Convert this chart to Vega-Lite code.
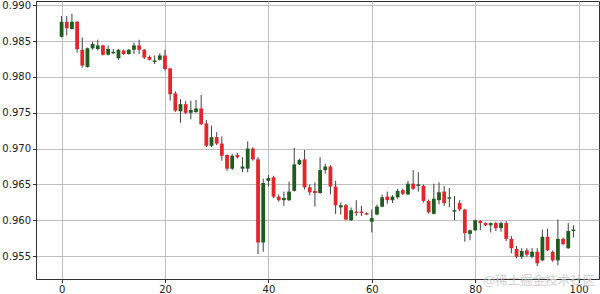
{
  "$schema": "https://vega.github.io/schema/vega-lite/v6.json",
  "width": 563,
  "height": 278,
  "autosize": {"type": "none"},
  "padding": {"left": 36, "top": 1, "right": 1, "bottom": 15},
  "background": "white",
  "config": {
    "view": {"stroke": "#333333", "strokeWidth": 1},
    "scale": {"continuousPadding": 0},
    "axis": {
      "labelFont": "DejaVu Sans",
      "labelFontSize": 10,
      "labelColor": "#222222",
      "tickColor": "#333333",
      "domainColor": "#333333",
      "tickSize": 3.5,
      "labelPadding": 2,
      "labelOverlap": false,
      "gridColor": "#b0b0b0",
      "gridWidth": 0.8
    }
  },
  "data": {
    "values": [
      {"i": 0, "open": 0.9856, "high": 0.9885, "low": 0.9855, "close": 0.9877},
      {"i": 1, "open": 0.9877, "high": 0.9885, "low": 0.9858, "close": 0.9868},
      {"i": 2, "open": 0.9867, "high": 0.9888, "low": 0.9866, "close": 0.9877},
      {"i": 3, "open": 0.9877, "high": 0.9878, "low": 0.9834, "close": 0.9839},
      {"i": 4, "open": 0.9838, "high": 0.9855, "low": 0.9813, "close": 0.9816},
      {"i": 5, "open": 0.9814, "high": 0.9841, "low": 0.9813, "close": 0.984},
      {"i": 6, "open": 0.984, "high": 0.9849, "low": 0.9838, "close": 0.9846},
      {"i": 7, "open": 0.9839, "high": 0.9852, "low": 0.9837, "close": 0.9844},
      {"i": 8, "open": 0.9844, "high": 0.9845, "low": 0.983, "close": 0.9831},
      {"i": 9, "open": 0.9831, "high": 0.9844, "low": 0.983, "close": 0.9839},
      {"i": 10, "open": 0.9833, "high": 0.9839, "low": 0.9832, "close": 0.9835},
      {"i": 11, "open": 0.9826, "high": 0.9839, "low": 0.9824, "close": 0.9838},
      {"i": 12, "open": 0.9837, "high": 0.9838, "low": 0.9831, "close": 0.9832},
      {"i": 13, "open": 0.9832, "high": 0.9839, "low": 0.9831, "close": 0.9838},
      {"i": 14, "open": 0.9838, "high": 0.9848, "low": 0.9832, "close": 0.9844},
      {"i": 15, "open": 0.9844, "high": 0.9852, "low": 0.9832, "close": 0.9838},
      {"i": 16, "open": 0.9838, "high": 0.9839, "low": 0.9825, "close": 0.9827},
      {"i": 17, "open": 0.9828, "high": 0.983, "low": 0.9823, "close": 0.9824},
      {"i": 18, "open": 0.9821, "high": 0.983, "low": 0.9818, "close": 0.9823},
      {"i": 19, "open": 0.9824, "high": 0.9833, "low": 0.9823, "close": 0.983},
      {"i": 20, "open": 0.983, "high": 0.9838, "low": 0.9809, "close": 0.9811},
      {"i": 21, "open": 0.9812, "high": 0.9812, "low": 0.9767, "close": 0.9776},
      {"i": 22, "open": 0.9777, "high": 0.978, "low": 0.9751, "close": 0.9753},
      {"i": 23, "open": 0.9752, "high": 0.9769, "low": 0.9736, "close": 0.9762},
      {"i": 24, "open": 0.9762, "high": 0.9766, "low": 0.9748, "close": 0.975},
      {"i": 25, "open": 0.975, "high": 0.9767, "low": 0.9741, "close": 0.9754},
      {"i": 26, "open": 0.9751, "high": 0.9768, "low": 0.975, "close": 0.9756},
      {"i": 27, "open": 0.9756, "high": 0.9775, "low": 0.9733, "close": 0.9734},
      {"i": 28, "open": 0.9735, "high": 0.974, "low": 0.9702, "close": 0.9704},
      {"i": 29, "open": 0.9704, "high": 0.9732, "low": 0.9702, "close": 0.9716},
      {"i": 30, "open": 0.9716, "high": 0.9723, "low": 0.9705, "close": 0.9707},
      {"i": 31, "open": 0.9707, "high": 0.9717, "low": 0.9683, "close": 0.969},
      {"i": 32, "open": 0.9691, "high": 0.9692, "low": 0.9669, "close": 0.9672},
      {"i": 33, "open": 0.9672, "high": 0.9693, "low": 0.967, "close": 0.969},
      {"i": 34, "open": 0.9691, "high": 0.9694, "low": 0.9686, "close": 0.9688},
      {"i": 35, "open": 0.9672, "high": 0.9688, "low": 0.9667, "close": 0.9675},
      {"i": 36, "open": 0.9672, "high": 0.971, "low": 0.9667, "close": 0.97},
      {"i": 37, "open": 0.97, "high": 0.9702, "low": 0.9683, "close": 0.9685},
      {"i": 38, "open": 0.9685, "high": 0.9688, "low": 0.9553, "close": 0.9569},
      {"i": 39, "open": 0.9569, "high": 0.9658, "low": 0.9556, "close": 0.9652},
      {"i": 40, "open": 0.9655, "high": 0.9663, "low": 0.9647, "close": 0.9659},
      {"i": 41, "open": 0.966, "high": 0.9662, "low": 0.9631, "close": 0.9633},
      {"i": 42, "open": 0.9633, "high": 0.9636, "low": 0.9626, "close": 0.9628},
      {"i": 43, "open": 0.9628, "high": 0.964, "low": 0.962, "close": 0.9631},
      {"i": 44, "open": 0.9628, "high": 0.9654, "low": 0.9627, "close": 0.964},
      {"i": 45, "open": 0.9641, "high": 0.9701, "low": 0.964, "close": 0.9678},
      {"i": 46, "open": 0.9678, "high": 0.9686, "low": 0.9677, "close": 0.9684},
      {"i": 47, "open": 0.9685, "high": 0.9698, "low": 0.9643, "close": 0.9646},
      {"i": 48, "open": 0.9646, "high": 0.965, "low": 0.9635, "close": 0.9639},
      {"i": 49, "open": 0.9641, "high": 0.9653, "low": 0.9619, "close": 0.9638},
      {"i": 50, "open": 0.9638, "high": 0.9688, "low": 0.9637, "close": 0.967},
      {"i": 51, "open": 0.967, "high": 0.9679, "low": 0.9665, "close": 0.9675},
      {"i": 52, "open": 0.9675, "high": 0.9677, "low": 0.9636, "close": 0.9647},
      {"i": 53, "open": 0.9647, "high": 0.9655, "low": 0.9609, "close": 0.9621},
      {"i": 54, "open": 0.9618, "high": 0.9625, "low": 0.9608, "close": 0.9621},
      {"i": 55, "open": 0.9621, "high": 0.9623, "low": 0.96, "close": 0.9601},
      {"i": 56, "open": 0.96, "high": 0.9618, "low": 0.9599, "close": 0.9614},
      {"i": 57, "open": 0.9612, "high": 0.9628, "low": 0.9606, "close": 0.961},
      {"i": 58, "open": 0.9612, "high": 0.962, "low": 0.9606, "close": 0.961},
      {"i": 59, "open": 0.961, "high": 0.9611, "low": 0.9607, "close": 0.9608},
      {"i": 60, "open": 0.9598, "high": 0.9615, "low": 0.9583, "close": 0.9603},
      {"i": 61, "open": 0.9608, "high": 0.9622, "low": 0.9607, "close": 0.9619},
      {"i": 62, "open": 0.9619, "high": 0.9636, "low": 0.9618, "close": 0.9632},
      {"i": 63, "open": 0.9633, "high": 0.964, "low": 0.9623, "close": 0.9628},
      {"i": 64, "open": 0.9628, "high": 0.9635, "low": 0.9624, "close": 0.9633},
      {"i": 65, "open": 0.9632, "high": 0.9644, "low": 0.963, "close": 0.9641},
      {"i": 66, "open": 0.9642, "high": 0.9644, "low": 0.9635, "close": 0.9637},
      {"i": 67, "open": 0.9636, "high": 0.9655, "low": 0.9635, "close": 0.9651},
      {"i": 68, "open": 0.9651, "high": 0.967, "low": 0.9642, "close": 0.9644},
      {"i": 69, "open": 0.9648, "high": 0.9667, "low": 0.964, "close": 0.965},
      {"i": 70, "open": 0.9648, "high": 0.965, "low": 0.9625, "close": 0.9627},
      {"i": 71, "open": 0.9627, "high": 0.9629, "low": 0.9609, "close": 0.9611},
      {"i": 72, "open": 0.9609, "high": 0.9651, "low": 0.9608, "close": 0.963},
      {"i": 73, "open": 0.9628, "high": 0.9653, "low": 0.9622, "close": 0.9639},
      {"i": 74, "open": 0.964, "high": 0.9648, "low": 0.962, "close": 0.9624},
      {"i": 75, "open": 0.963, "high": 0.9645, "low": 0.9618, "close": 0.9632},
      {"i": 76, "open": 0.9612, "high": 0.9634, "low": 0.96, "close": 0.9614},
      {"i": 77, "open": 0.9624, "high": 0.9628, "low": 0.9613, "close": 0.9615},
      {"i": 78, "open": 0.9615, "high": 0.9616, "low": 0.957, "close": 0.9582},
      {"i": 79, "open": 0.9581, "high": 0.9587, "low": 0.9572, "close": 0.9586},
      {"i": 80, "open": 0.9586, "high": 0.9601, "low": 0.9585, "close": 0.96},
      {"i": 81, "open": 0.9599, "high": 0.96, "low": 0.9586, "close": 0.9596},
      {"i": 82, "open": 0.9596, "high": 0.9597, "low": 0.9592, "close": 0.9593},
      {"i": 83, "open": 0.9593, "high": 0.9597, "low": 0.9583, "close": 0.9596},
      {"i": 84, "open": 0.9596, "high": 0.9598, "low": 0.9585, "close": 0.9589},
      {"i": 85, "open": 0.9589, "high": 0.9598, "low": 0.9584, "close": 0.9596},
      {"i": 86, "open": 0.9596, "high": 0.9599, "low": 0.9571, "close": 0.9574},
      {"i": 87, "open": 0.9574, "high": 0.9578, "low": 0.9554, "close": 0.9561},
      {"i": 88, "open": 0.956, "high": 0.9564, "low": 0.9547, "close": 0.9549},
      {"i": 89, "open": 0.9549, "high": 0.9561, "low": 0.9546, "close": 0.9557},
      {"i": 90, "open": 0.9558, "high": 0.9561, "low": 0.9549, "close": 0.9552},
      {"i": 91, "open": 0.9549, "high": 0.9561, "low": 0.9547, "close": 0.9556},
      {"i": 92, "open": 0.9556, "high": 0.9561, "low": 0.9536, "close": 0.954},
      {"i": 93, "open": 0.9544, "high": 0.9587, "low": 0.9543, "close": 0.9577},
      {"i": 94, "open": 0.9577, "high": 0.9588, "low": 0.9557, "close": 0.9558},
      {"i": 95, "open": 0.9556, "high": 0.9558, "low": 0.9542, "close": 0.9544},
      {"i": 96, "open": 0.9544, "high": 0.9601, "low": 0.9537, "close": 0.9574},
      {"i": 97, "open": 0.9574, "high": 0.9576, "low": 0.9565, "close": 0.9567},
      {"i": 98, "open": 0.9561, "high": 0.9596, "low": 0.956, "close": 0.9585},
      {"i": 99, "open": 0.9585, "high": 0.9593, "low": 0.9576, "close": 0.9587}
    ]
  },
  "layer": [
    {
      "mark": {"type": "rule", "color": "#404040", "strokeWidth": 1},
      "encoding": {
        "x": {
          "field": "i",
          "type": "quantitative",
          "title": null,
          "scale": {"domain": [-4.95, 103.95], "nice": false, "zero": false, "padding": 0},
          "axis": {"values": [0, 20, 40, 60, 80, 100], "grid": true, "title": null}
        },
        "y": {
          "field": "low",
          "type": "quantitative",
          "title": null,
          "scale": {"domain": [0.9518, 0.9906], "nice": false, "zero": false, "padding": 0},
          "axis": {
            "values": [0.955, 0.96, 0.965, 0.97, 0.975, 0.98, 0.985, 0.99],
            "tickCount": 8,
            "format": ".3f",
            "grid": true,
            "labelOverlap": false,
            "title": null
          }
        },
        "y2": {"field": "high"}
      }
    },
    {
      "mark": {"type": "bar", "size": 3.8},
      "encoding": {
        "x": {
          "field": "i",
          "type": "quantitative",
          "title": null,
          "axis": {"values": [0, 20, 40, 60, 80, 100], "grid": true, "title": null}
        },
        "y": {
          "field": "open",
          "type": "quantitative",
          "title": null,
          "axis": {
            "values": [0.955, 0.96, 0.965, 0.97, 0.975, 0.98, 0.985, 0.99],
            "tickCount": 8,
            "format": ".3f",
            "grid": true,
            "labelOverlap": false,
            "title": null
          }
        },
        "y2": {"field": "close"},
        "color": {
          "condition": {"test": "datum.close < datum.open", "value": "#e3262b"},
          "value": "#1f5c1f"
        }
      }
    },
    {
      "data": {"values": [{"label": "@稀土掘金技术社区"}]},
      "mark": {
        "type": "text",
        "align": "right",
        "baseline": "middle",
        "font": "Noto Sans CJK SC",
        "fontSize": 12.5,
        "color": "#c8c8c8",
        "opacity": 0.85
      },
      "encoding": {
        "x": {"datum": 103.2},
        "y": {"datum": 0.9515},
        "text": {"field": "label"}
      }
    }
  ]
}
